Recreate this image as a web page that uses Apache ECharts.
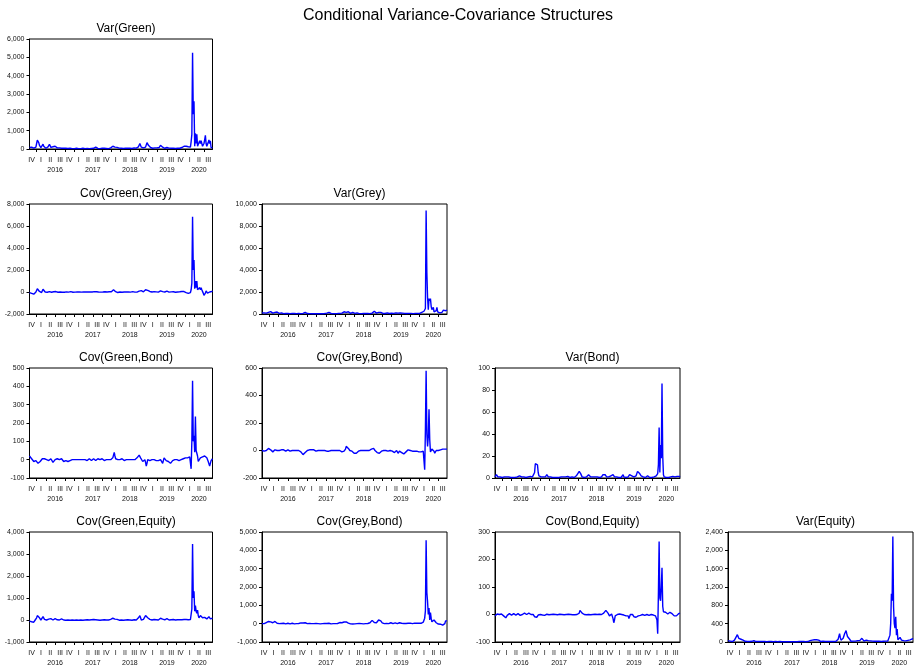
<!DOCTYPE html>
<html>
<head>
<meta charset="utf-8">
<script src="https://cdn.jsdelivr.net/npm/echarts@6/dist/echarts.min.js"></script>
<style>
  html, body { margin: 0; padding: 0; background: #fff; }
  #chart { width: 916px; height: 668px; }
</style>
</head>
<body>
<div id="chart"></div>
<script>
// Weekly observations, first week ending 23 Oct 2015
const firstWeek = [2015, 9, 23];
const weekCount = 258;
const quarterNames = ['I', 'II', 'III', 'IV'];
const yearLabels = ['2016', '2017', '2018', '2019', '2020'];
const firstQuarter = [2015, 4];
const lastQuarter = [2020, 3];

const varGreen = [
  80,120,60,100,90,70,50,40,60,100,
  300,480,420,350,200,120,80,60,150,260,
  150,70,50,40,60,80,120,150,260,200,
  90,60,80,120,90,70,150,180,100,60,
  50,40,60,80,50,40,30,70,40,30,
  30,40,50,30,30,20,30,40,30,20,
  20,30,30,20,20,30,40,30,20,20,
  20,30,20,20,30,40,30,20,20,20,
  20,30,30,20,20,30,40,30,20,30,
  40,60,80,100,70,40,30,20,30,20,
  20,30,40,30,20,40,60,40,30,30,
  30,20,30,40,60,50,80,150,250,180,
  100,70,60,90,120,80,50,40,30,40,
  50,40,30,30,40,50,40,30,40,30,
  30,40,50,40,30,60,80,60,40,30,
  50,60,80,120,200,300,250,100,60,80,
  60,80,60,100,200,350,300,200,140,100,
  80,60,50,40,50,80,60,40,50,60,
  50,60,80,120,200,250,150,100,80,60,
  40,50,60,80,60,40,50,80,60,40,
  30,40,50,60,40,30,40,50,40,30,
  30,40,60,50,80,120,100,150,120,100,
  150,100,80,120,100,150,100,400,800,5250,
  1900,2600,150,850,300,800,150,250,200,450,
  300,450,350,150,100,300,500,750,300,150,
  200,350,500,300,450,80,50,60
];

const covGreenGrey = [
  -50,-30,-80,-120,-60,-100,-200,-80,-20,0,
  150,300,250,150,50,0,-30,-50,100,250,
  180,80,0,-30,-50,-20,0,30,40,20,
  0,-20,-30,0,20,10,30,40,20,0,
  -20,-30,-10,0,-20,-30,-20,0,-10,-20,
  -10,0,10,-10,-20,-10,0,10,30,0,
  -10,-20,-10,0,-10,-20,-10,0,-10,-10,
  0,10,0,-10,0,10,0,-10,0,10,
  0,-10,0,10,20,10,0,-10,0,10,
  20,30,50,40,20,0,-10,0,10,0,
  -10,0,10,0,-10,10,20,10,0,0,
  10,0,20,30,50,20,60,150,200,120,
  80,30,0,-20,-50,-30,-10,0,-20,-30,
  -20,0,10,0,-10,0,10,0,-10,0,
  10,0,-10,0,10,30,20,0,-10,-20,
  0,-10,0,30,80,200,250,120,30,0,
  20,50,100,200,300,250,150,80,60,50,
  30,20,0,-10,10,30,20,0,10,20,
  0,-10,20,50,100,120,60,30,0,-20,
  0,20,50,80,40,0,-10,20,30,10,
  0,10,20,30,0,-20,0,10,0,-10,
  0,20,40,30,50,80,60,40,20,0,
  -50,-100,-150,-120,-100,-80,-50,200,800,6850,
  2000,2900,300,1000,400,1000,200,300,100,400,
  200,400,200,100,-100,-300,-200,-100,100,50,
  -100,-50,-100,0,-50,-100,50,100
];

const varGrey = [
  100,80,60,100,150,120,80,60,100,150,
  200,180,220,150,100,80,60,100,150,200,
  250,180,100,80,60,120,150,100,60,40,
  30,40,50,40,30,40,50,40,30,30,
  40,50,40,30,30,40,50,40,30,30,
  30,40,50,40,30,40,50,60,80,120,
  150,100,60,40,30,20,30,40,30,20,
  20,30,20,20,30,20,20,30,20,20,
  20,30,40,30,20,20,30,40,50,60,
  80,100,120,150,120,80,50,40,30,30,
  30,40,30,40,50,40,30,40,60,80,
  100,80,100,150,200,250,180,150,220,250,
  200,150,80,60,80,120,150,100,80,60,
  40,150,100,60,40,30,30,40,30,30,
  30,40,30,30,40,30,30,40,50,40,
  30,40,60,80,120,200,250,150,100,80,
  60,80,150,250,200,150,100,80,60,50,
  40,50,60,80,100,80,60,50,40,60,
  80,100,80,60,50,80,100,120,100,80,
  60,80,100,80,60,80,100,80,60,50,
  40,50,60,80,60,40,50,60,40,30,
  30,40,50,60,50,40,60,80,60,50,
  80,100,150,200,300,250,200,500,9400,3800,
  1500,400,1400,1200,1400,700,400,500,600,200,
  150,100,300,600,200,100,80,100,80,60,
  150,300,350,250,350,300,200,350
];

const covGreenBond = [
  20,15,10,5,0,-5,-10,-5,0,-5,
  -10,-15,-20,-15,-20,-10,-5,0,5,-5,
  0,5,0,-5,0,5,0,-5,0,5,
  5,0,-5,-15,-10,-5,0,5,0,5,
  10,5,0,5,10,5,0,-5,-10,-15,
  -10,-5,0,-5,-10,-15,-10,-5,0,0,
  0,0,5,0,0,-5,0,0,5,0,
  0,5,0,0,-5,0,0,5,0,0,
  0,-5,0,0,5,0,0,-5,0,0,
  5,0,0,-5,0,0,5,0,-5,0,
  0,0,5,0,0,-5,0,5,0,0,
  -5,0,0,-5,0,5,0,10,25,40,
  20,5,-5,0,0,5,0,0,-5,0,
  5,0,0,-5,0,5,0,0,-5,0,
  0,5,0,-5,0,0,5,0,0,0,
  5,10,15,20,25,20,10,5,0,-10,
  -20,-10,0,-15,-35,-20,0,5,0,-5,
  0,5,0,-5,-10,0,5,0,-5,0,
  0,-5,-10,-5,0,5,-10,-20,-10,10,
  5,0,-5,0,-5,-10,-5,-10,-20,-25,
  -15,-5,0,5,0,-5,-5,0,5,0,
  -5,0,5,0,-5,0,5,10,5,10,
  10,15,10,5,10,15,10,-50,100,430,
  100,130,40,235,50,50,20,-10,-5,0,
  10,5,10,15,10,5,20,30,25,10,
  0,-10,-20,-35,-20,-5,0,5
];

const covGreyBond = [
  0,5,0,-5,0,5,0,5,10,15,
  10,10,5,0,-5,-10,-5,0,5,0,
  -5,0,5,0,0,-5,0,5,0,0,
  5,0,0,-5,0,0,5,0,0,-5,
  0,5,0,0,-5,0,0,5,0,0,
  -5,0,0,-5,-10,-15,-20,-30,-40,-30,
  -15,-10,-5,0,-5,0,5,0,0,5,
  0,0,5,0,0,-5,0,5,0,0,
  5,0,0,-5,0,0,5,0,0,0,
  -5,-5,-10,-5,0,5,0,0,-5,0,
  0,5,0,0,-5,0,0,5,0,0,
  -5,-10,-5,0,-5,-10,10,30,40,35,
  15,10,0,-5,0,-5,-10,-15,-20,-15,
  -10,-20,-15,-10,-5,0,5,0,0,5,
  0,0,5,0,0,-5,0,0,5,0,
  0,5,10,15,20,15,5,0,-5,-10,
  -15,-10,-5,-20,-25,-15,-5,0,5,0,
  0,-5,0,5,0,-5,0,5,0,-5,
  -10,-5,0,-10,-15,-10,-5,0,-10,-20,
  -10,-5,-5,-10,-15,-10,-20,-25,-30,-20,
  -10,-5,0,5,0,-5,0,-5,-10,-5,
  0,-5,-5,0,-10,-5,-5,0,-10,-5,
  -5,-10,-5,0,-5,-10,-140,150,580,120,
  30,100,300,80,-10,-20,10,0,10,-5,
  -20,-10,0,-5,5,0,-5,0,5,10,
  15,10,5,15,10,5,15,10
];

const varBond = [
  1,2,3,2,1,0.5,0.5,1,0.5,0.5,
  0.5,1,1.5,1,0.5,0.5,1,0.5,0.5,1,
  1.5,1,0.5,0.5,1,0.5,0.5,1,0.5,0.5,
  0.5,1,1,1.5,2,3,2,1,0.5,0.5,
  1,1.5,1,0.5,0.5,1,1,0.5,1,1.5,
  1,0.5,1,1.5,2,5,13,14,14,12,
  5,2,1,0.5,1,1,0.5,1,0.5,1,
  1,2,3,1.5,1,0.5,0.5,1,2,1,
  0.5,1,1,0.5,0.5,1,0.5,0.5,1,0.5,
  0.5,1,1,1.5,1,1,0.5,0.5,1,0.5,
  1,1.5,2,1,0.5,1,0.5,1,1,0.5,
  0.5,1,1,2,3,4,5,6,6,4,
  3,1,0.5,1,0.5,1,0.5,1,1,2,
  3,3,2,1,0.5,0.5,1,0.5,0.5,1,
  1,0.5,1,1.5,1,0.5,1,0.5,1,1.5,
  3,4,4,3,2,1,1,0.5,1,1,
  1,2,1,1,3,2,1,0.5,0.5,1,
  0.5,1,0.5,0.5,1,0.5,1,2,3,1,
  0.5,1,0.5,1,0.5,1,2,3,4,3,
  2,1,0.5,1,0.5,1,2,4,6,5,
  6,4,3,2,3,2,1,0.5,1,0.5,
  1,1.5,2,1,0.5,0.5,1,0.5,0.5,1,
  1.5,1,0.5,1,2,1,4,12,46,5,
  30,18,86,20,3,1,0.5,1,0.5,0.5,
  1,0.5,1,1.5,1,0.5,1,1.5,1,0.5,
  1,1.5,2,1.5,1,2,1.5,1
];

const covGreenEquity = [
  -50,-30,-60,-80,-50,-60,-100,-50,0,20,
  100,200,280,150,100,50,0,-20,60,150,
  80,30,0,-20,0,30,50,40,20,50,
  60,30,10,0,20,50,60,40,20,10,
  0,-10,0,20,30,50,30,10,0,-10,
  0,-10,-20,-10,0,10,0,-10,-20,-10,
  0,-10,-20,-10,0,10,0,-10,0,-10,
  -20,-10,0,-10,-20,-10,0,10,0,-10,
  0,10,0,-10,0,10,20,10,0,10,
  20,30,20,10,0,-10,0,10,0,-10,
  0,10,0,-10,0,10,20,10,0,0,
  -10,0,10,20,30,20,40,80,120,80,
  40,60,50,30,0,-20,-10,0,-10,0,
  10,0,-10,0,10,0,-10,0,10,0,
  -10,0,10,0,-10,0,20,10,0,-10,
  0,20,50,100,150,200,100,0,-20,0,
  30,60,100,200,280,200,100,60,40,30,
  20,10,0,-10,0,20,10,0,10,20,
  10,0,20,50,80,130,80,40,20,0,
  10,20,40,60,40,20,0,10,20,10,
  0,10,20,30,20,0,10,20,10,0,
  0,10,30,20,10,30,40,20,10,0,
  20,30,20,10,20,30,20,100,500,3450,
  1000,1300,400,650,400,300,450,200,100,150,
  200,250,200,100,50,80,120,150,100,50,
  80,120,150,100,50,40,60,80
];

const covGreyEquity = [
  0,20,10,0,20,40,60,80,100,120,
  140,150,100,30,20,50,80,100,120,110,
  60,20,0,-10,0,10,20,10,0,10,
  20,10,0,-10,0,10,20,10,0,-10,
  0,10,20,10,0,-10,0,10,0,-10,
  0,10,20,30,40,50,50,40,30,20,
  50,30,10,0,-10,0,10,0,-10,0,
  0,10,0,-10,0,10,0,-10,0,0,
  0,-10,0,10,0,-10,0,10,0,0,
  10,20,30,20,10,0,-10,0,10,0,
  0,10,0,-10,0,10,20,40,60,80,
  60,50,80,100,90,80,100,100,90,60,
  30,0,-20,-10,0,-10,-20,-10,0,-10,
  0,10,0,-10,0,10,0,-10,0,10,
  0,-10,0,10,0,-10,0,10,20,30,
  50,80,120,180,200,150,60,30,20,50,
  100,150,200,250,240,150,80,40,20,10,
  0,10,20,10,0,-10,0,10,30,50,
  40,20,0,10,30,40,30,10,0,10,
  30,50,60,40,20,10,0,10,30,20,
  10,0,10,20,30,40,30,20,10,0,
  10,20,30,20,10,20,30,40,30,20,
  10,20,30,50,80,100,300,700,4550,1700,
  1200,500,850,200,600,300,100,150,180,200,
  150,100,50,30,0,-20,-40,-50,-30,-50,
  -60,-80,-70,-50,0,150,100,150
];

const covBondEquity = [
  -5,-3,0,2,3,2,0,-2,0,2,
  0,-3,-5,-8,-10,-12,-8,-3,0,2,
  3,2,0,-2,0,2,3,2,0,-2,
  0,2,3,2,0,-3,-5,-3,0,2,
  3,5,3,2,0,2,3,5,3,2,
  0,2,3,0,-5,-8,-12,-15,-10,-5,
  -2,0,2,0,-2,-3,-2,0,-2,-3,
  -2,0,1,0,-2,-1,0,1,0,-1,
  0,1,0,-1,0,1,0,-1,0,0,
  1,0,-1,0,1,0,-1,0,1,0,
  -1,0,1,0,-1,0,1,0,-1,0,
  0,-1,0,1,0,-1,-5,5,15,18,
  16,5,0,2,0,1,0,-1,0,1,
  0,1,0,-1,0,1,0,-1,0,1,
  0,-1,0,1,2,1,0,-1,0,2,
  3,5,8,12,15,17,10,5,0,-5,
  -3,0,2,-5,-15,-30,-20,-5,0,2,
  0,-2,0,2,0,-2,0,2,0,-2,
  0,-3,-5,-3,0,-5,-15,-10,0,5,
  3,0,-5,-8,-12,-15,-10,-5,-3,-5,
  -8,-5,-3,0,2,0,-2,0,-3,-5,
  -3,0,-2,-5,-3,0,-2,0,-3,-5,
  -2,0,-3,-5,-10,-20,-70,75,265,60,
  50,100,170,30,10,5,3,8,10,5,
  2,0,5,8,10,5,3,0,-3,-5,
  -8,-10,-5,-3,0,3,5,5
];

const varEquity = [
  30,50,30,20,10,15,10,20,30,40,
  60,100,140,160,120,80,70,80,60,30,
  80,40,20,10,15,10,20,10,15,20,
  10,15,20,15,10,20,30,25,15,10,
  20,15,10,20,15,10,15,20,10,10,
  5,10,15,10,5,10,5,10,5,5,
  10,5,10,5,5,10,15,10,5,5,
  5,5,10,5,5,5,10,5,5,5,
  5,5,5,10,5,5,5,5,10,5,
  5,5,10,5,5,5,5,10,15,10,
  5,5,10,5,5,10,5,10,5,10,
  5,10,10,20,30,40,50,40,50,60,
  50,40,60,50,60,70,40,30,20,10,
  10,15,20,10,5,10,5,5,10,5,
  5,10,5,5,10,5,5,10,5,10,
  15,20,30,60,120,180,100,40,30,60,
  80,120,180,220,250,180,120,100,90,60,
  20,15,20,30,20,15,10,20,15,20,
  30,25,20,30,40,60,80,60,40,20,
  20,30,40,30,20,30,40,35,25,20,
  15,20,25,20,15,20,25,20,15,10,
  15,20,15,10,15,20,15,10,15,20,
  25,30,20,30,40,150,400,1050,900,2300,
  770,400,300,550,150,280,50,30,80,100,
  120,40,20,25,30,20,30,25,30,40,
  35,40,30,45,50,60,70,65
];

// Panels of the lower-triangular matrix: row, column, y-scale
const panels = [
  { title: 'Var(Green)',        data: varGreen,       row: 0, col: 0, min: 0,     max: 6000,  interval: 1000 },
  { title: 'Cov(Green,Grey)',   data: covGreenGrey,   row: 1, col: 0, min: -2000, max: 8000,  interval: 2000 },
  { title: 'Var(Grey)',         data: varGrey,        row: 1, col: 1, min: 0,     max: 10000, interval: 2000 },
  { title: 'Cov(Green,Bond)',   data: covGreenBond,   row: 2, col: 0, min: -100,  max: 500,   interval: 100 },
  { title: 'Cov(Grey,Bond)',    data: covGreyBond,    row: 2, col: 1, min: -200,  max: 600,   interval: 200 },
  { title: 'Var(Bond)',         data: varBond,        row: 2, col: 2, min: 0,     max: 100,   interval: 20 },
  { title: 'Cov(Green,Equity)', data: covGreenEquity, row: 3, col: 0, min: -1000, max: 4000,  interval: 1000 },
  { title: 'Cov(Grey,Bond)',    data: covGreyEquity,  row: 3, col: 1, min: -1000, max: 5000,  interval: 1000 },
  { title: 'Cov(Bond,Equity)',  data: covBondEquity,  row: 3, col: 2, min: -100,  max: 300,   interval: 100 },
  { title: 'Var(Equity)',       data: varEquity,      row: 3, col: 3, min: 0,     max: 2400,  interval: 400 }
];

const colLeft = [29.5, 262, 495, 728];
const colWidth = [183, 185, 185, 185];
const rowTop = [39, 204, 368, 532];
const plotHeight = 110;

const FONT = '"Liberation Sans", Arial, sans-serif';

// Week categories
const DAY = 86400000;
const t0 = Date.UTC(firstWeek[0], firstWeek[1], firstWeek[2]);
const weekTimes = [];
const weekDates = [];
for (let i = 0; i < weekCount; i++) {
  const t = t0 + i * 7 * DAY;
  weekTimes.push(t);
  weekDates.push(new Date(t).toISOString().slice(0, 10));
}
function nearestWeek(t) {
  let best = 0, bd = Infinity;
  for (let i = 0; i < weekTimes.length; i++) {
    const d = Math.abs(weekTimes[i] - t);
    if (d < bd) { bd = d; best = i; }
  }
  return best;
}

// Quarter labels centred in each quarter, ticks at quarter starts
const quarterLabel = new Map();
const quarterTick = new Set();
const yearSpan = {};
for (let y = firstQuarter[0], q = firstQuarter[1]; y < lastQuarter[0] || (y === lastQuarter[0] && q <= lastQuarter[1]); ) {
  const qs = Date.UTC(y, (q - 1) * 3, 1);
  const qe = Date.UTC(y, q * 3, 1);
  const li = nearestWeek((qs + qe) / 2);
  quarterLabel.set(li, quarterNames[q - 1]);
  if (qs > weekTimes[0]) {
    const ti = weekTimes.findIndex(t => t >= qs);
    if (ti > 0) quarterTick.add(ti);
  }
  const ys = String(y);
  if (!yearSpan[ys]) yearSpan[ys] = [li, li];
  yearSpan[ys][1] = li;
  q++; if (q > 4) { q = 1; y++; }
}
const yearLabel = new Map();
yearLabels.forEach(y => {
  if (yearSpan[y]) yearLabel.set(Math.round((yearSpan[y][0] + yearSpan[y][1]) / 2), y);
});

const grids = [], xAxes = [], yAxes = [], series = [];
const titles = [{
  text: 'Conditional Variance-Covariance Structures',
  left: 'center', top: 3,
  textStyle: { fontFamily: FONT, fontSize: 16, fontWeight: 'normal', color: '#000' }
}];

panels.forEach((p, k) => {
  const left = colLeft[p.col], width = colWidth[p.col], top = rowTop[p.row];
  grids.push({ left, top, width, height: plotHeight, show: true, borderColor: '#000', borderWidth: 1, containLabel: false });
  titles.push({
    text: p.title, left: left + width / 2, top: top - 21, textAlign: 'center',
    textStyle: { fontFamily: FONT, fontSize: 12, fontWeight: 'normal', color: '#000' }
  });
  xAxes.push({
    type: 'category', gridIndex: k, data: weekDates, boundaryGap: false, position: 'bottom',
    axisLine: { show: true, onZero: false, lineStyle: { color: '#000', width: 1 } },
    axisTick: { show: true, length: 3, interval: (i) => quarterTick.has(i), lineStyle: { color: '#000' } },
    axisLabel: { interval: (i) => quarterLabel.has(i), formatter: (v, i) => quarterLabel.get(i) || '',
      fontFamily: FONT, fontSize: 7, color: '#111', margin: 8 },
    splitLine: { show: false }
  });
  xAxes.push({
    type: 'category', gridIndex: k, data: weekDates, boundaryGap: false, position: 'bottom',
    axisLine: { show: false, onZero: false }, axisTick: { show: false },
    axisLabel: { interval: (i) => yearLabel.has(i), formatter: (v, i) => yearLabel.get(i) || '',
      fontFamily: FONT, fontSize: 7, color: '#111', margin: 18 },
    splitLine: { show: false }
  });
  yAxes.push({
    type: 'value', gridIndex: k, min: p.min, max: p.max, interval: p.interval,
    axisLine: { show: true, lineStyle: { color: '#000', width: 1 } },
    axisTick: { show: true, length: 3, lineStyle: { color: '#000' } },
    axisLabel: { fontFamily: FONT, fontSize: 7, color: '#111', margin: 5,
      formatter: (v) => v.toLocaleString('en-US') },
    splitLine: { show: false }
  });
  series.push({
    type: 'line', xAxisIndex: 2 * k, yAxisIndex: k, data: p.data,
    showSymbol: false, symbol: 'none', smooth: false,
    lineStyle: { color: '#0000ff', width: 1.4 }, itemStyle: { color: '#0000ff' },
    emphasis: { disabled: true }
  });
});

const chart = echarts.init(document.getElementById('chart'), null, { renderer: 'canvas' });
chart.setOption({
  backgroundColor: '#fff',
  animation: false,
  title: titles,
  grid: grids,
  xAxis: xAxes,
  yAxis: yAxes,
  series: series
});
</script>
</body>
</html>
